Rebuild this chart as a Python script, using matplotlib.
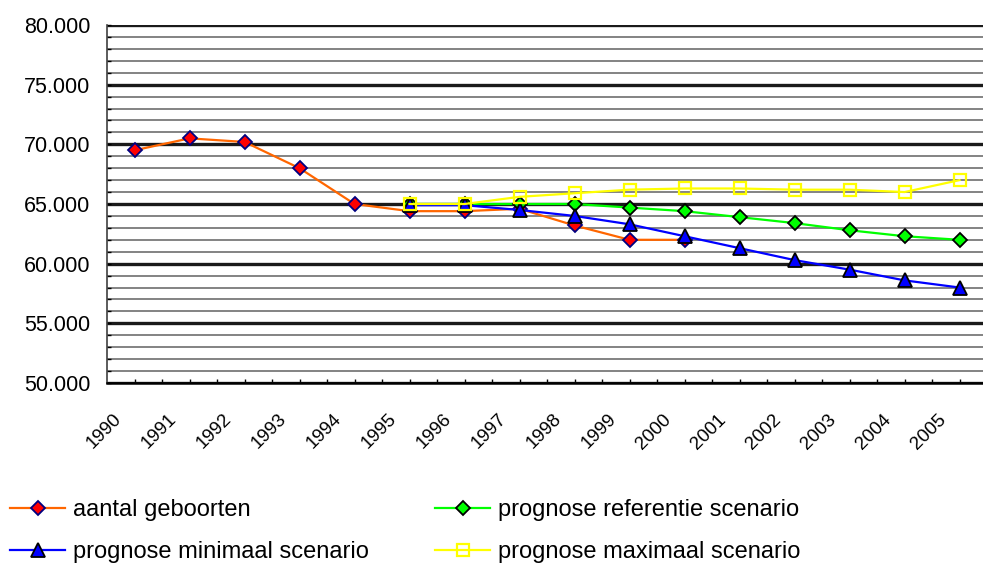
import numpy as np
import matplotlib
matplotlib.use('Agg')
from matplotlib import pyplot as plt
from matplotlib.ticker import MultipleLocator, FuncFormatter
from matplotlib.transforms import ScaledTranslation

plt.rcParams['font.family'] = ['Liberation Sans', 'DejaVu Sans']

years = ['1990', '1991', '1992', '1993', '1994', '1995', '1996', '1997',
         '1998', '1999', '2000', '2001', '2002', '2003', '2004', '2005']

# registered births 1990-2000
geboorten = [69500, 70500, 70200, 68000, 65000, 64400, 64400, 64600, 63200, 62000, 62000]

# forecasts 1995-2005
prognose_start = '1995'
referentie = [65000, 65000, 65000, 65000, 64700, 64400, 63900, 63400, 62800, 62300, 62000]
minimaal = [64900, 64900, 64500, 64000, 63300, 62300, 61300, 60300, 59500, 58600, 58000]
maximaal = [65000, 65000, 65600, 65900, 66200, 66300, 66300, 66200, 66200, 66000, 67000]

labels = ['aantal geboorten', 'prognose referentie scenario',
          'prognose minimaal scenario', 'prognose maximaal scenario']


def dutch_thousands(v, pos):
    return '{:,.0f}'.format(v).replace(',', '.')


fig = plt.figure(figsize=(9.83, 5.64), dpi=100)
ax = fig.add_axes([107 / 983, 181 / 564, 880 / 983, 358 / 564])

x = np.arange(len(years))
p0 = years.index(prognose_start)
xp = x[p0:p0 + len(referentie)]

l_geb, = ax.plot(x[:len(geboorten)], geboorten, '-D', color='#ff6600', lw=1.6,
                 ms=7, mfc='#ff0000', mec='#000080', mew=1.3, zorder=3)
l_ref, = ax.plot(xp, referentie, '-D', color='#00ff00', lw=1.6,
                 ms=7, mfc='#00ff00', mec='black', mew=1.3, zorder=4)
l_min, = ax.plot(xp, minimaal, '-^', color='#0000ff', lw=1.6,
                 ms=10.5, mfc='#0000ff', mec='black', mew=1.3, zorder=5)
l_max, = ax.plot(xp, maximaal, '-s', color='#ffff00', lw=1.6,
                 ms=8.5, mfc='none', mec='#ffff00', mew=1.6, zorder=6)

ax.set_xlim(-0.5, len(years) - 0.5)
ax.set_ylim(50000, 80000)

ax.yaxis.set_major_locator(MultipleLocator(5000))
ax.yaxis.set_minor_locator(MultipleLocator(1000))
ax.yaxis.set_major_formatter(FuncFormatter(dutch_thousands))
ax.grid(True, which='minor', axis='y', color='#7a7a7a', lw=1.3, zorder=1)
ax.grid(True, which='major', axis='y', color='#1a1a1a', lw=2.4, zorder=2)

ax.set_xticks(x)
ax.set_xticks(x[:-1] + 0.5, minor=True)
ax.set_xticklabels(years)

ax.tick_params(axis='y', which='both', direction='in', length=3, width=1,
               labelsize=15.5, pad=12)
ax.tick_params(axis='x', which='both', direction='in', length=3, width=1,
               labelsize=13.5, pad=20)

shift = ScaledTranslation(-22 / 100, 0, fig.dpi_scale_trans)
for lab in ax.get_xticklabels():
    lab.set_rotation(45)
    lab.set_rotation_mode('anchor')
    lab.set_ha('right')
    lab.set_va('top')
    lab.set_transform(lab.get_transform() + shift)

for side in ['top', 'right']:
    ax.spines[side].set_visible(False)
ax.spines['left'].set_color('#404040')
ax.spines['left'].set_linewidth(1.2)
ax.spines['bottom'].set_color('black')
ax.spines['bottom'].set_linewidth(1.8)

# two legend columns placed separately
leg_kw = dict(loc='upper left', frameon=False, fontsize=17, handlelength=2.35,
              handletextpad=0.3, labelspacing=0.84, borderpad=0, borderaxespad=0,
              bbox_transform=fig.transFigure)
leg1 = fig.legend([l_geb, l_min], [labels[0], labels[2]],
                  bbox_to_anchor=(10 / 983, 1 - 499 / 564), **leg_kw)
leg2 = fig.legend([l_ref, l_max], [labels[1], labels[3]],
                  bbox_to_anchor=(435 / 983, 1 - 499 / 564), **leg_kw)

fig.savefig('out.png', dpi=100)
